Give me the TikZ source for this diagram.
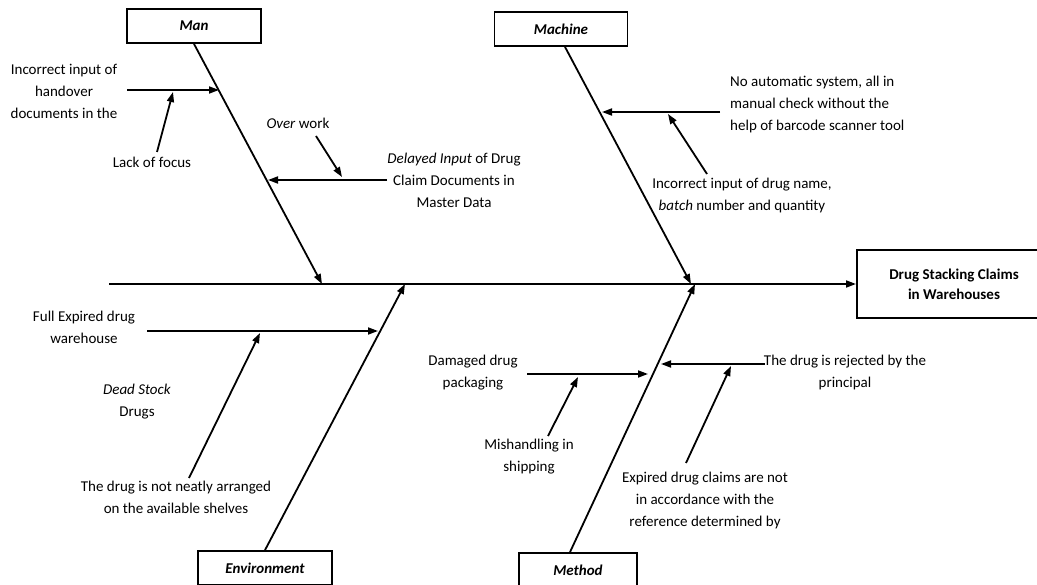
\documentclass[tikz,border=0pt]{standalone}
\usepackage{fontspec}
\setmainfont{Carlito}
\usetikzlibrary{arrows.meta}

\begin{document}
\begin{tikzpicture}[x=1pt, y=-1pt, line width=1.8pt,
    cat/.style={draw, fill=white, minimum height=34pt, font=\fontsize{15}{18}\selectfont\bfseries\itshape},
    cause/.style={align=center, font=\fontsize{15}{22}\selectfont},
    arr/.style={-{Triangle[length=10pt,width=7pt]}}]
    \useasboundingbox (0,0) rectangle (1037,585);
    \clip (0,0) rectangle (1037,585);

    \node[draw, minimum width=220pt, minimum height=68pt, anchor=west, font=\fontsize{15}{20}\selectfont\bfseries] at (856,284)(effect){};
    \node[align=center, font=\fontsize{15}{20}\selectfont\bfseries] at (954,284)(effecttext){Drug Stacking Claims\\in Warehouses};
    \node[cat, minimum width=134pt] at (194,26)(man){Man};
    \node[cat, minimum width=133pt] at (561,29)(machine){Machine};
    \node[cat, minimum width=134pt] at (265,568)(env){Environment};
    \node[cat, minimum width=118pt] at (578,570)(method){Method};

    \coordinate (tail) at (109,284);
    \coordinate (jman) at (322,284);
    \coordinate (jmachine) at (691,284);
    \coordinate (jenv) at (405,284);
    \coordinate (jmethod) at (695,284);

    \node[cause] at (64,91)(handover){Incorrect input of\\handover\\documents in the};
    \node[cause] at (152,162)(focus){Lack of focus};
    \node[cause] at (298,123)(overwork){\textit{Over} work};
    \node[cause] at (454,180)(delayed){\textit{Delayed Input} of Drug\\Claim Documents in\\Master Data};
    \node[cause, align=left, anchor=west] at (726,105)(noauto){No automatic system, all in\\manual check without the\\help of barcode scanner tool};
    \node[cause] at (742,196)(drugname){Incorrect input of drug name,\\\textit{batch} number and quantity};
    \node[cause] at (84,327)(full){Full Expired drug\\warehouse};
    \node[cause] at (137,402)(dead){\textit{Dead Stock}\\Drugs};
    \node[cause] at (176,497)(shelves){The drug is not neatly arranged\\on the available shelves};
    \node[cause] at (473,373)(damaged){Damaged drug\\packaging};
    \node[cause] at (529,457)(shipping){Mishandling in\\shipping};
    \node[cause] at (845,373)(rejected){The drug is rejected by the\\principal};
    \node[cause] at (705,501)(expired){Expired drug claims are not\\in accordance with the\\reference determined by};

    \coordinate (a1) at (127,90);  \coordinate (b1) at (219,90);
    \coordinate (a2) at (157,152); \coordinate (b2) at (173,92);
    \coordinate (a3) at (316,136); \coordinate (b3) at (342,177);
    \coordinate (a4) at (387,180); \coordinate (b4) at (268,180);
    \coordinate (a5) at (720,112); \coordinate (b5) at (602,112);
    \coordinate (a6) at (707,174); \coordinate (b6) at (668,114);
    \coordinate (a7) at (147,331); \coordinate (b7) at (378,331);
    \coordinate (a8) at (189,478); \coordinate (b8) at (260,333);
    \coordinate (a9) at (527,374); \coordinate (b9) at (648,374);
    \coordinate (a10) at (548,436); \coordinate (b10) at (578,377);
    \coordinate (a11) at (765,364); \coordinate (b11) at (661,364);
    \coordinate (a12) at (686,463); \coordinate (b12) at (731,366);

    \draw[arr](tail) -- (effect.west);
    \draw[arr](man.south) -- (jman);
    \draw[arr]([xshift=4pt]machine.south) -- (jmachine);
    \draw[arr](env.north) -- (jenv);
    \draw[arr]([xshift=-8pt]method.north) -- (jmethod);

    \foreach \i in {1,...,12}
        \draw[arr](a\i) -- (b\i);
\end{tikzpicture}
\end{document}
